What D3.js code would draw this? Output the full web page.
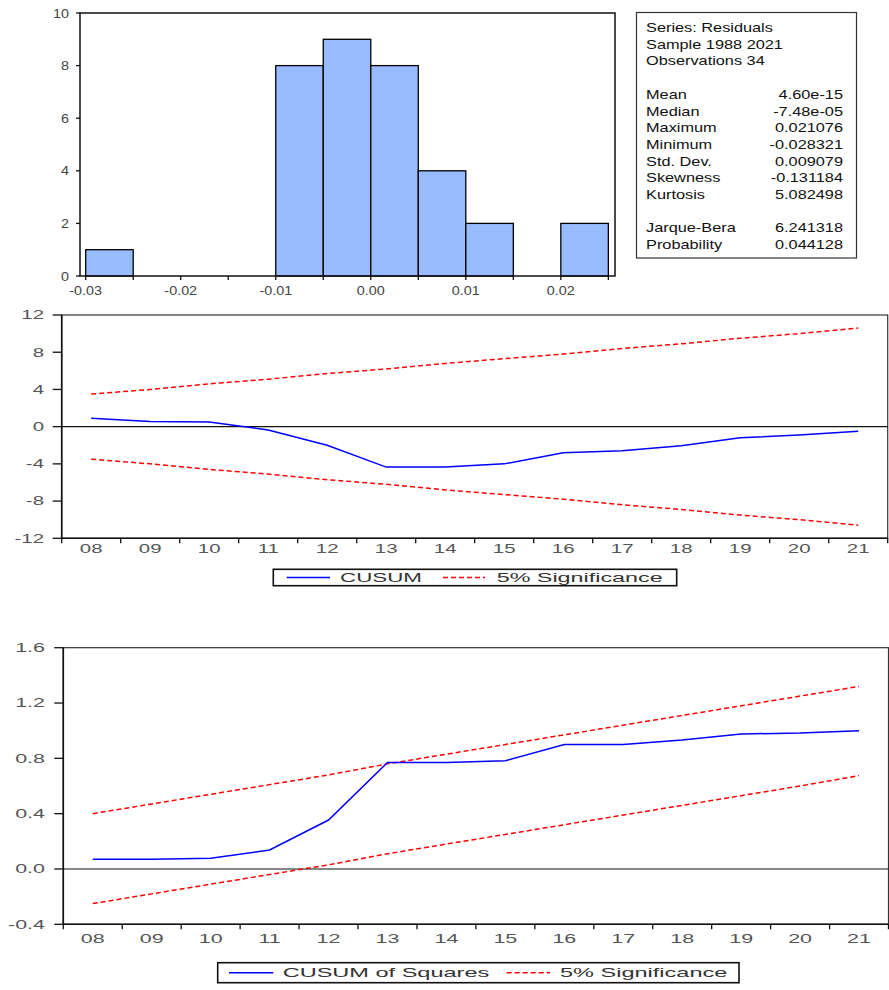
<!DOCTYPE html>
<html><head><meta charset="utf-8">
<script src="https://cdn.jsdelivr.net/npm/d3@7"></script>
<style>body{margin:0;background:#fff}svg{display:block}</style>
</head><body>
<script>
// ---------- DATA ----------
const binStarts = [-0.030,-0.025,-0.020,-0.015,-0.010,-0.005,0.000,0.005,0.010,0.015,0.020];
const binCounts = [1,0,0,0,8,9,8,4,2,0,2];
const binWidth = 0.005;
const histXTicks = [-0.03,-0.02,-0.01,0.00,0.01,0.02];
const histXLabels = ["-0.03","-0.02","-0.01","0.00","0.01","0.02"];
const histMinorTicks = [-0.03,-0.025,-0.02,-0.015,-0.01,-0.005,0,0.005,0.01,0.015,0.02,0.025];
const histYTicks = [0,2,4,6,8,10];

const statsHeader = ["Series: Residuals","Sample 1988 2021","Observations 34"];
const statNames = ["Mean","Median","Maximum","Minimum","Std. Dev.","Skewness","Kurtosis"];
const statValues = ["4.60e-15","-7.48e-05","0.021076","-0.028321","0.009079","-0.131184","5.082498"];
const testNames = ["Jarque-Bera","Probability"];
const testValues = ["6.241318","0.044128"];

const years = ["08","09","10","11","12","13","14","15","16","17","18","19","20","21"];
const cusum      = [0.9, 0.55, 0.5, -0.35, -2.0, -4.35, -4.35, -4.0, -2.8, -2.6, -2.05, -1.2, -0.9, -0.5];
const cusumUpper = [3.5, 4.0, 4.6, 5.1, 5.7, 6.2, 6.8, 7.3, 7.8, 8.4, 8.9, 9.5, 10.0, 10.6];
const cusumLower = [-3.5, -4.0, -4.6, -5.1, -5.7, -6.2, -6.8, -7.3, -7.8, -8.4, -8.9, -9.5, -10.0, -10.6];
const cusumTicks = [-12,-8,-4,0,4,8,12];

const cusumSq = [0.07, 0.07, 0.077, 0.137, 0.354, 0.77, 0.77, 0.783, 0.90, 0.90, 0.933, 0.976, 0.983, 1.0];
const sqUpper = [0.40, 0.47, 0.54, 0.61, 0.68, 0.76, 0.83, 0.90, 0.97, 1.04, 1.11, 1.18, 1.25, 1.32];
const sqLower = [-0.25, -0.18, -0.11, -0.04, 0.03, 0.11, 0.18, 0.25, 0.32, 0.39, 0.46, 0.53, 0.60, 0.675];
const sqTicks = [-0.4, 0.0, 0.4, 0.8, 1.2, 1.6];
const sqTickLabels = ["-0.4","0.0","0.4","0.8","1.2","1.6"];

// ---------- DRAW ----------
const FONT = "'Liberation Sans', Arial, sans-serif";
const svg = d3.select("body").append("svg").attr("width",889).attr("height",990)
  .style("font-family",FONT);

function stext(g, x, y, s, k, anchor, size, fill){
  return g.append("text").attr("transform",`translate(${x},${y}) scale(${k},1)`)
    .attr("text-anchor",anchor).attr("font-size",size).attr("fill",fill).text(s);
}

// ===== Histogram =====
const hx = d3.scaleLinear().domain([-0.0306,0.0257]).range([80,615]);
const hy = d3.scaleLinear().domain([0,10]).range([276,13]);
const hg = svg.append("g");
hg.selectAll("rect.bar").data(binStarts.map((s,i)=>({s,c:binCounts[i]})).filter(d=>d.c>0))
  .enter().append("rect").attr("class","bar")
  .attr("x",d=>hx(d.s)).attr("width",d=>hx(d.s+binWidth)-hx(d.s))
  .attr("y",d=>hy(d.c)).attr("height",d=>hy(0)-hy(d.c))
  .attr("fill","#99BBFF").attr("stroke","#000").attr("stroke-width",1.3);
hg.append("rect").attr("x",hx.range()[0]).attr("y",hy(10)).attr("width",hx.range()[1]-hx.range()[0])
  .attr("height",hy(0)-hy(10)).attr("fill","none").attr("stroke","#111").attr("stroke-width",1.5);
hg.selectAll("line.yt").data(histYTicks).enter().append("line")
  .attr("x1",hx.range()[0]-4).attr("x2",hx.range()[0]).attr("y1",d=>hy(d)).attr("y2",d=>hy(d))
  .attr("stroke","#111").attr("stroke-width",1.3);
hg.selectAll("line.xt").data(histMinorTicks).enter().append("line")
  .attr("x1",d=>hx(d)).attr("x2",d=>hx(d)).attr("y1",hy(0)).attr("y2",hy(0)+4)
  .attr("stroke","#111").attr("stroke-width",1.3);
histYTicks.forEach(t=>stext(hg, 69, hy(t)+4.5, String(t), 1.15, "end", 12.5, "#444"));
histXTicks.forEach((t,i)=>stext(hg, hx(t), 295, histXLabels[i], 1.15, "middle", 12.5, "#444"));

// ===== Stats box =====
const sg = svg.append("g");
sg.append("rect").attr("x",636.5).attr("y",12.5).attr("width",220).attr("height",245.5)
  .attr("fill","#fff").attr("stroke","#333").attr("stroke-width",1.2);
const lineY = i => 32 + i*16.7;
const SK = 1.36, SS = 12, SC = "#111";
statsHeader.forEach((s,i)=>stext(sg, 646, lineY(i), s, SK, "start", SS, SC));
statNames.forEach((s,i)=>{ stext(sg, 646, lineY(i+4), s, SK, "start", SS, SC);
  stext(sg, 843, lineY(i+4), statValues[i], SK, "end", SS, SC); });
testNames.forEach((s,i)=>{ stext(sg, 646, lineY(i+12), s, SK, "start", SS, SC);
  stext(sg, 843, lineY(i+12), testValues[i], SK, "end", SS, SC); });

// ===== Generic CUSUM-type panel =====
function panel(opt){
  const g = svg.append("g");
  const x = d3.scaleBand().domain(years).range([opt.left,opt.right]).padding(0);
  const y = d3.scaleLinear().domain(opt.ydom).range([opt.bottom,opt.top]);
  const cx = d => x(d)+x.bandwidth()/2;
  // frame
  g.append("rect").attr("x",opt.left).attr("y",opt.top).attr("width",opt.right-opt.left)
    .attr("height",opt.bottom-opt.top).attr("fill","none").attr("stroke","#333").attr("stroke-width",1.2);
  // zero line
  g.append("line").attr("x1",opt.left).attr("x2",opt.right).attr("y1",y(0)).attr("y2",y(0))
    .attr("stroke","#111").attr("stroke-width",1.2);
  // axes lines
  g.append("line").attr("x1",opt.left).attr("x2",opt.left).attr("y1",opt.top).attr("y2",opt.bottom)
    .attr("stroke","#111").attr("stroke-width",1.6);
  g.append("line").attr("x1",opt.left).attr("x2",opt.right).attr("y1",opt.bottom).attr("y2",opt.bottom)
    .attr("stroke","#111").attr("stroke-width",1.6);
  // y ticks
  g.selectAll("line.yt").data(opt.yticks).enter().append("line")
    .attr("x1",opt.left-opt.ytickLen).attr("x2",opt.left).attr("y1",d=>y(d)).attr("y2",d=>y(d))
    .attr("stroke","#111").attr("stroke-width",1.3);
  opt.yticks.forEach((t,i)=>stext(g, opt.ylabelX, y(t)+4.3, opt.ylabels[i], opt.k, "end", opt.fs, "#555"));
  // x ticks at band edges
  const edges = years.map(d=>x(d)).concat([x.range()[1]]);
  g.selectAll("line.xt").data(edges).enter().append("line")
    .attr("x1",d=>d).attr("x2",d=>d).attr("y1",opt.bottom).attr("y2",opt.bottom+5)
    .attr("stroke","#111").attr("stroke-width",1.3);
  years.forEach(d=>stext(g, cx(d), opt.xlabelY, d, opt.k, "middle", opt.fs, "#555"));
  // lines
  const mk = arr => d3.line().x((d,i)=>cx(years[i])).y(d=>y(d))(arr);
  [opt.upper,opt.lower].forEach(a=>g.append("path").attr("d",mk(a)).attr("fill","none")
    .attr("stroke","#FF0000").attr("stroke-width",1.5).attr("stroke-dasharray","5,3"));
  g.append("path").attr("d",mk(opt.series)).attr("fill","none")
    .attr("stroke","#0000FF").attr("stroke-width",1.5);
  // legend
  const L = opt.legend;
  g.append("rect").attr("x",L.x0).attr("y",L.y0).attr("width",L.x1-L.x0).attr("height",L.y1-L.y0)
    .attr("fill","#fff").attr("stroke","#111").attr("stroke-width",1.6);
  const ly = (L.y0+L.y1)/2;
  g.append("line").attr("x1",L.b0).attr("x2",L.b1).attr("y1",ly).attr("y2",ly)
    .attr("stroke","#0000FF").attr("stroke-width",1.5);
  g.append("line").attr("x1",L.r0).attr("x2",L.r1).attr("y1",ly).attr("y2",ly)
    .attr("stroke","#FF0000").attr("stroke-width",1.5).attr("stroke-dasharray","5,3");
  g.append("text").attr("x",L.t1x).attr("y",ly+4.5).attr("font-size",L.fs).attr("fill","#333")
    .attr("textLength",L.t1w).attr("lengthAdjust","spacingAndGlyphs").text(L.t1);
  g.append("text").attr("x",L.t2x).attr("y",ly+4.5).attr("font-size",L.fs).attr("fill","#333")
    .attr("textLength",L.t2w).attr("lengthAdjust","spacingAndGlyphs").text("5% Significance");
}

panel({left:61.7,right:887.7,top:315,bottom:538.3,ydom:[-12,12],
  yticks:cusumTicks,ylabels:cusumTicks.map(String),ytickLen:9,ylabelX:44,xlabelY:552.5,k:1.7,fs:12,
  series:cusum,upper:cusumUpper,lower:cusumLower,
  legend:{x0:273.3,x1:676.7,y0:569.3,y1:585.7,b0:286.7,b1:330,r0:443,r1:485,
    t1:"CUSUM",t1x:340,t1w:82,t2x:496.7,t2w:166,fs:12}});

panel({left:63.3,right:888.5,top:647.7,bottom:924.3,ydom:[-0.4,1.6],
  yticks:sqTicks,ylabels:sqTickLabels,ytickLen:9,ylabelX:45,xlabelY:943,k:1.65,fs:13,
  series:cusumSq,upper:sqUpper,lower:sqLower,
  legend:{x0:217.7,x1:739,y0:962.7,y1:982.7,b0:229,b1:273.3,r0:506.7,r1:550,
    t1:"CUSUM of Squares",t1x:282.7,t1w:206.6,t2x:560,t2w:167.3,fs:13}});
</script>
</body></html>
